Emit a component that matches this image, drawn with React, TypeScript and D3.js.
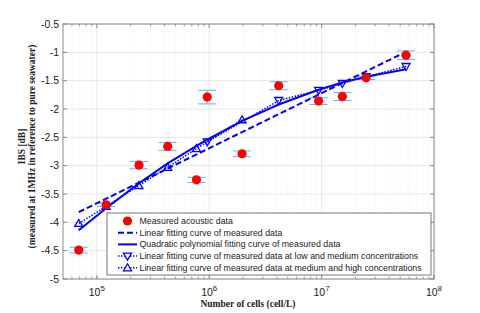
import React from "react";
import * as d3 from "d3";

// measured data (cells/L vs IBS dB)
const cells = [6.9e4, 1.21e5, 2.37e5, 4.27e5, 7.7e5, 9.6e5, 1.96e6, 4.15e6, 9.4e6, 1.53e7, 2.49e7, 5.64e7];
const ibs = [-4.49, -3.69, -2.99, -2.66, -3.25, -1.79, -2.79, -1.59, -1.86, -1.78, -1.45, -1.05];
const errs = [0.05, 0.03, 0.065, 0.07, 0.045, 0.12, 0.05, 0.07, 0.06, 0.07, 0.03, 0.075];

// linear fit (straight in semilog) endpoints
const linX = [6.9e4, 5.64e7];
const linY = [-3.82, -0.99];

// quadratic fit evaluated at the measured concentrations
const quadY = [-4.14, -3.75, -3.31, -2.96, -2.65, -2.54, -2.21, -1.92, -1.66, -1.53, -1.43, -1.3];

// dotted fits with markers
const upX = [6.9e4, 1.21e5, 2.37e5, 4.27e5, 7.7e5, 1.96e6];
const upY = [-4.02, -3.72, -3.35, -3.03, -2.7, -2.19];
const downX = [9.6e5, 4.15e6, 9.4e6, 1.53e7, 2.49e7, 5.64e7];
const downY = [-2.58, -1.85, -1.67, -1.55, -1.43, -1.25];

const yTicks = [-5, -4.5, -4, -3.5, -3, -2.5, -2, -1.5, -1, -0.5];
const xMajor = [1e5, 1e6, 1e7, 1e8];

const legendLabels = [
    "Measured acoustic data",
    "Linear fitting curve of measured data",
    "Quadratic polynomial fitting curve of measured data",
    "Linear fitting curve of measured data at low and medium concentrations",
    "Linear fitting curve of measured data at medium and high concentrations",
];

const W = 480;
const H = 313;
const left = 63, right = 434, top = 24, bottom = 279;
const BLUE = "#0000ff";
const ERR = "#5cb8ea";
const sans = "'Liberation Sans', Arial, sans-serif";
const serif = "'Liberation Serif', 'Times New Roman', serif";

const tri = (cx: number, cy: number, up: boolean, s = 4) =>
    up
        ? `M${cx},${cy - s} L${cx + s},${cy + s * 0.75} L${cx - s},${cy + s * 0.75} Z`
        : `M${cx},${cy + s} L${cx + s},${cy - s * 0.75} L${cx - s},${cy - s * 0.75} Z`;

const App: React.FC = () => {
    const x = d3.scaleLog().domain([5e4, 1e8]).range([left, right]);
    const y = d3.scaleLinear().domain([-5, -0.5]).range([bottom, top]);

    const line = d3.line<[number, number]>().x((d) => x(d[0])).y((d) => y(d[1]));

    // minor log ticks
    const minor: number[] = [];
    for (let e = 4; e < 8; e++) {
        for (let m = 2; m <= 9; m++) {
            const v = m * Math.pow(10, e);
            if (v > 5e4 && v < 1e8) minor.push(v);
        }
    }

    const lgX = 107, lgY = 213, lgW = 324, lgH = 62;
    const rowH = 11.7;

    return (
        <svg width={W} height={H} style={{ position: "absolute", left: 0, top: 0, background: "#fff" }}>
            {/* grid */}
            {minor.map((v, i) => (
                <line key={"mg" + i} x1={x(v)} x2={x(v)} y1={top} y2={bottom} stroke="#e4e4e4" strokeWidth={0.6} strokeDasharray="1,1.5" />
            ))}
            {xMajor.map((v, i) => (
                <line key={"xg" + i} x1={x(v)} x2={x(v)} y1={top} y2={bottom} stroke="#e2e2e2" strokeWidth={0.8} />
            ))}
            {yTicks.map((v, i) => (
                <line key={"yg" + i} x1={left} x2={right} y1={y(v)} y2={y(v)} stroke="#e2e2e2" strokeWidth={0.8} />
            ))}

            {/* error bars */}
            {cells.map((c, i) => {
                const cx = x(c);
                return (
                    <g key={"e" + i} stroke={ERR} strokeWidth={1}>
                        <line x1={cx} x2={cx} y1={y(ibs[i] - errs[i])} y2={y(ibs[i] + errs[i])} />
                        <line x1={cx - 9} x2={cx + 9} y1={y(ibs[i] - errs[i])} y2={y(ibs[i] - errs[i])} />
                        <line x1={cx - 9} x2={cx + 9} y1={y(ibs[i] + errs[i])} y2={y(ibs[i] + errs[i])} />
                    </g>
                );
            })}

            {/* fits */}
            <path d={line(linX.map((v, i) => [v, linY[i]]) as any) || ""} fill="none" stroke={BLUE} strokeWidth={2} strokeDasharray="6,3" />
            <path d={line(cells.map((v, i) => [v, quadY[i]]) as any) || ""} fill="none" stroke={BLUE} strokeWidth={2} />
            <path d={line(upX.map((v, i) => [v, upY[i]]) as any) || ""} fill="none" stroke={BLUE} strokeWidth={1.5} strokeDasharray="1.5,1.5" />
            <path d={line(downX.map((v, i) => [v, downY[i]]) as any) || ""} fill="none" stroke={BLUE} strokeWidth={1.5} strokeDasharray="1.5,1.5" />
            {upX.map((v, i) => (
                <path key={"u" + i} d={tri(x(v), y(upY[i]), true)} fill="none" stroke={BLUE} strokeWidth={1.3} />
            ))}
            {downX.map((v, i) => (
                <path key={"d" + i} d={tri(x(v), y(downY[i]), false)} fill="none" stroke={BLUE} strokeWidth={1.3} />
            ))}

            {/* measured points */}
            {cells.map((c, i) => (
                <circle key={"p" + i} cx={x(c)} cy={y(ibs[i])} r={4.6} fill="#ff0000" />
            ))}

            {/* axes box and ticks */}
            <rect x={left} y={top} width={right - left} height={bottom - top} fill="none" stroke="#7f7f7f" strokeWidth={0.9} />
            {yTicks.map((v, i) => (
                <g key={"yt" + i} stroke="#7f7f7f" strokeWidth={0.9}>
                    <line x1={left} x2={left + 4} y1={y(v)} y2={y(v)} />
                    <line x1={right} x2={right - 4} y1={y(v)} y2={y(v)} />
                </g>
            ))}
            {xMajor.map((v, i) => (
                <g key={"xt" + i} stroke="#7f7f7f" strokeWidth={0.9}>
                    <line x1={x(v)} x2={x(v)} y1={bottom} y2={bottom - 4} />
                    <line x1={x(v)} x2={x(v)} y1={top} y2={top + 4} />
                </g>
            ))}
            {minor.map((v, i) => (
                <g key={"mt" + i} stroke="#7f7f7f" strokeWidth={0.7}>
                    <line x1={x(v)} x2={x(v)} y1={bottom} y2={bottom - 2.5} />
                    <line x1={x(v)} x2={x(v)} y1={top} y2={top + 2.5} />
                </g>
            ))}

            {/* tick labels */}
            {yTicks.map((v, i) => (
                <text key={"yl" + i} x={left - 4} y={y(v)} dy="0.35em" textAnchor="end" fontFamily={sans} fontSize={10.5} fill="#222">
                    {v}
                </text>
            ))}
            {xMajor.map((v, i) => (
                <text key={"xl" + i} x={x(v)} y={296} textAnchor="middle" fontFamily={sans} fontSize={10.5} fill="#222">
                    10
                    <tspan dy={-5} fontSize={8}>{Math.round(Math.log10(v))}</tspan>
                </text>
            ))}

            {/* axis titles */}
            <text x={248} y={307} textAnchor="middle" fontFamily={serif} fontSize={9.5} fontWeight="bold" fill="#222">
                Number of cells (cell/L)
            </text>
            <g transform={`translate(25,${(top + bottom) / 2 - 5}) rotate(-90)`}>
                <text x={0} y={0} textAnchor="middle" fontFamily={serif} fontSize={9.5} fontWeight="bold" fill="#222">
                    IBS [dB]
                </text>
                <text x={0} y={10} textAnchor="middle" fontFamily={serif} fontSize={9.5} fontWeight="bold" fill="#222">
                    (measured at 1MHz in reference to pure seawater)
                </text>
            </g>

            {/* legend */}
            <rect x={lgX} y={lgY} width={lgW} height={lgH} fill="#fff" stroke="#555" strokeWidth={0.8} />
            {legendLabels.map((lab, i) => {
                const cy = lgY + 8 + i * rowH;
                const x1 = lgX + 11, x2 = lgX + 30, mx = (x1 + x2) / 2;
                let sample: React.ReactNode = null;
                if (i === 0) sample = <circle cx={mx} cy={cy} r={4.6} fill="#ff0000" />;
                if (i === 1) sample = <line x1={x1} x2={x2} y1={cy} y2={cy} stroke={BLUE} strokeWidth={2} strokeDasharray="6,3" />;
                if (i === 2) sample = <line x1={x1} x2={x2} y1={cy} y2={cy} stroke={BLUE} strokeWidth={2} />;
                if (i >= 3)
                    sample = (
                        <g>
                            <line x1={x1} x2={x2} y1={cy} y2={cy} stroke={BLUE} strokeWidth={1.5} strokeDasharray="1.5,1.5" />
                            <path d={tri(mx, cy, i === 4)} fill="#fff" stroke={BLUE} strokeWidth={1.3} />
                        </g>
                    );
                return (
                    <g key={"lg" + i}>
                        {sample}
                        <text x={lgX + 32.5} y={cy} dy="0.35em" fontFamily={sans} fontSize={8.8} fill="#222">
                            {lab}
                        </text>
                    </g>
                );
            })}
        </svg>
    );
};

export default App;
